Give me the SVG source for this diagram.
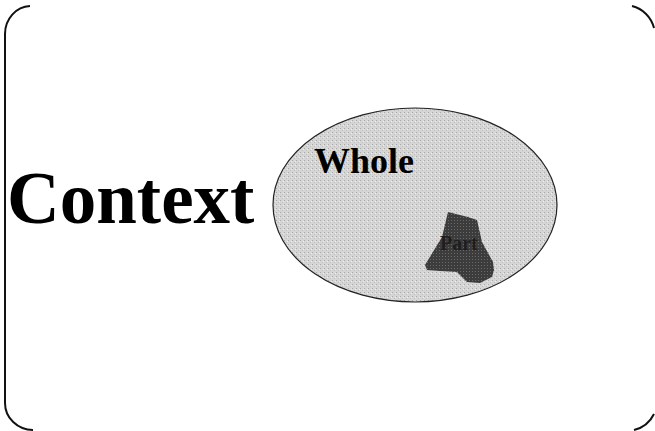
<svg xmlns="http://www.w3.org/2000/svg" width="655" height="431" viewBox="0 0 655 431">
<defs>
<style>
.frame{fill:none;stroke:#111;stroke-width:2}
.lbl{font-family:"Liberation Serif","Times New Roman",serif;font-weight:bold;fill:#000}
</style>
<pattern id="stip" width="4" height="4" patternUnits="userSpaceOnUse">
<rect width="4" height="4" fill="#d6d6d6"/>
<rect x="0" y="0" width="1" height="1" fill="#a8a8a8"/>
<rect x="2" y="2" width="1" height="1" fill="#bdbdbd"/>
<rect x="3" y="1" width="1" height="1" fill="#eeeeee"/>
</pattern>
<pattern id="dark" width="3" height="3" patternUnits="userSpaceOnUse">
<rect width="3" height="3" fill="#3c3c3c"/>
<rect x="1" y="1" width="1" height="1" fill="#6a6a6a"/>
</pattern>
</defs>
<g id="frame">
<path class="frame" d="M30,6 A26,28 0 0 0 5,34 L5,403 A28,27 0 0 0 33,430"/>
<path class="frame" d="M632,6 A30,30 0 0 1 654,28"/>
<path class="frame" d="M654,414 A30,30 0 0 1 634,430"/>
</g>
<g id="context">
<text class="lbl" x="7" y="223" font-size="73">Context</text>
</g>
<g id="whole">
<ellipse cx="415" cy="205" rx="142" ry="97" fill="url(#stip)" stroke="#222" stroke-width="1.2"/>
<text class="lbl" x="314" y="173" font-size="36">Whole</text>
</g>
<g id="part">
<path d="M448,212 L468,217 L477,220 L482,242 L493,262 L494,270 L492,277 L480,283 L467,282 L457,272 L440,271 L427,270 L425,265 L442,237 Z" fill="url(#dark)"/>
<text class="lbl" x="440" y="250" font-size="20" style="fill:#1e1e1e">Part</text>
</g>
</svg>
